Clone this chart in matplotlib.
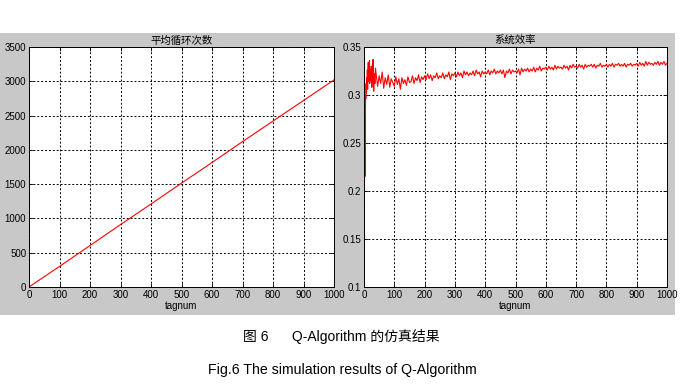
import numpy as np
import matplotlib
matplotlib.use("Agg")
import matplotlib.pyplot as plt
from matplotlib.patches import Rectangle
from matplotlib import font_manager

# ---------------- data ----------------
loop_tag = [0, 100, 200, 300, 400, 500, 600, 700, 800, 900, 1000]
loop_avg = [0, 300, 605, 910, 1210, 1515, 1815, 2120, 2420, 2720, 3020]

eff_tag_early = [1, 2, 3, 4, 5, 6, 7, 8, 9, 10, 11, 12, 13, 14, 15, 16, 17, 18, 19, 20,
                 22, 24, 26, 28, 30, 32, 34, 36, 38]
eff_early = [0.100, 0.280, 0.215, 0.262, 0.300, 0.296, 0.312, 0.302, 0.318, 0.310,
             0.326, 0.306, 0.322, 0.334, 0.314, 0.330, 0.318, 0.336, 0.312, 0.326,
             0.315, 0.330, 0.308, 0.324, 0.337, 0.304, 0.322, 0.312, 0.328]
eff_tag_late = list(range(40, 1001, 5))
eff_late = [
    0.322, 0.309, 0.320, 0.312, 0.324, 0.307, 0.318, 0.311, 0.321, 0.308, 0.317, 0.313, 0.309,
    0.319, 0.311, 0.317, 0.306, 0.318, 0.312, 0.316, 0.310, 0.319, 0.313,
    0.314, 0.320, 0.312, 0.318, 0.315, 0.321, 0.313, 0.319, 0.316, 0.320,
    0.316, 0.322, 0.317, 0.321, 0.315, 0.320, 0.318, 0.323, 0.317, 0.320,
    0.318, 0.323, 0.317, 0.321, 0.319, 0.324, 0.316, 0.322, 0.320, 0.323,
    0.319, 0.324, 0.320, 0.323, 0.318, 0.325, 0.321, 0.324, 0.320, 0.323,
    0.321, 0.325, 0.320, 0.326, 0.322, 0.324, 0.319, 0.325, 0.322, 0.324,
    0.322, 0.326, 0.321, 0.325, 0.323, 0.327, 0.322, 0.325, 0.323, 0.326,
    0.322, 0.326, 0.318, 0.325, 0.323, 0.327, 0.322, 0.326, 0.324, 0.325,
    0.323, 0.327, 0.321, 0.328, 0.324, 0.327, 0.325, 0.328, 0.324, 0.327,
    0.325, 0.329, 0.324, 0.328, 0.326, 0.330, 0.325, 0.328, 0.327, 0.329,
    0.326, 0.330, 0.327, 0.329, 0.326, 0.331, 0.327, 0.330, 0.328, 0.329,
    0.327, 0.331, 0.328, 0.330, 0.326, 0.331, 0.328, 0.332, 0.329, 0.330,
    0.328, 0.332, 0.329, 0.331, 0.327, 0.332, 0.329, 0.331, 0.330, 0.332,
    0.329, 0.332, 0.328, 0.331, 0.330, 0.333, 0.329, 0.331, 0.330, 0.332,
    0.329, 0.332, 0.330, 0.333, 0.329, 0.332, 0.331, 0.333, 0.330, 0.332,
    0.330, 0.333, 0.329, 0.332, 0.331, 0.333, 0.330, 0.332, 0.331, 0.333,
    0.330, 0.334, 0.331, 0.333, 0.330, 0.335, 0.331, 0.334, 0.332, 0.333,
    0.331, 0.334, 0.332, 0.335, 0.331, 0.334, 0.332, 0.335, 0.331, 0.333,
]

x_ticks = [0, 100, 200, 300, 400, 500, 600, 700, 800, 900, 1000]
left_yticks = [0, 500, 1000, 1500, 2000, 2500, 3000, 3500]
right_yticks = [0.1, 0.15, 0.2, 0.25, 0.3, 0.35]
right_yticklabels = ["0.1", "0.15", "0.2", "0.25", "0.3", "0.35"]

title_left = "平均循环次数"
title_right = "系统效率"
xlabel = "tagnum"
caption1a = "图 6"
caption1b = "Q-Algorithm 的仿真结果"
caption2 = "Fig.6 The simulation results of Q-Algorithm"

# ---------------- figure ----------------
W, H = 682, 390
fig = plt.figure(figsize=(W / 100, H / 100), dpi=100)
fig.patch.set_facecolor("white")

def fx(px):
    return px / W

def fy(py):
    return 1 - py / H

bg = Rectangle((0, fy(315)), fx(675), fy(33) - fy(315),
               transform=fig.transFigure, facecolor="#c8c8c8",
               edgecolor="none", zorder=-5)
fig.add_artist(bg)

cjk = ["Noto Sans CJK SC", "DejaVu Sans"]
tickfont = "Liberation Sans Narrow"
try:
    font_manager.findfont(tickfont, fallback_to_default=False)
except Exception:
    tickfont = "Liberation Sans"

def style_axes(ax):
    ax.set_facecolor("white")
    ax.set_xlim(0, 1000)
    ax.set_xticks(x_ticks)
    ax.grid(True, color="black", linestyle=(0, (2, 2)), linewidth=0.7)
    ax.tick_params(direction="in", length=3, width=0.6, labelsize=7,
                   top=True, right=True, pad=2)
    for lab in ax.get_xticklabels() + ax.get_yticklabels():
        lab.set_fontfamily(tickfont)
    for s in ax.spines.values():
        s.set_linewidth(0.7)
    ax.set_xlabel(xlabel, fontsize=7, family=tickfont, labelpad=1)

ax1 = fig.add_axes([fx(29), fy(287), fx(334) - fx(29), fy(47) - fy(287)])
ax1.plot(loop_tag, loop_avg, color="#ff0000", linewidth=0.8)
ax1.set_ylim(0, 3500)
ax1.set_yticks(left_yticks)
style_axes(ax1)
ax1.set_title(title_left, family=cjk, fontsize=7.5, pad=2)

ax2 = fig.add_axes([fx(364), fy(287), fx(667) - fx(364), fy(47) - fy(287)])
ax2.plot(eff_tag_early + eff_tag_late, eff_early + eff_late, color="#ff0000", linewidth=0.8)
ax2.set_ylim(0.1, 0.35)
ax2.set_yticks(right_yticks)
ax2.set_yticklabels(right_yticklabels)
style_axes(ax2)
ax2.set_title(title_right, family=cjk, fontsize=7.5, pad=2)

capfam = ["Liberation Sans", "Noto Sans CJK SC"]
fig.text(fx(243), fy(337), caption1a, family=capfam, fontsize=10, ha="left", va="center")
fig.text(fx(292), fy(337), caption1b, family=capfam, fontsize=10, ha="left", va="center")
fig.text(fx(342), fy(370), caption2, family=capfam, fontsize=10.2, ha="center", va="center")

fig.savefig("out.png", dpi=100, facecolor="white")
